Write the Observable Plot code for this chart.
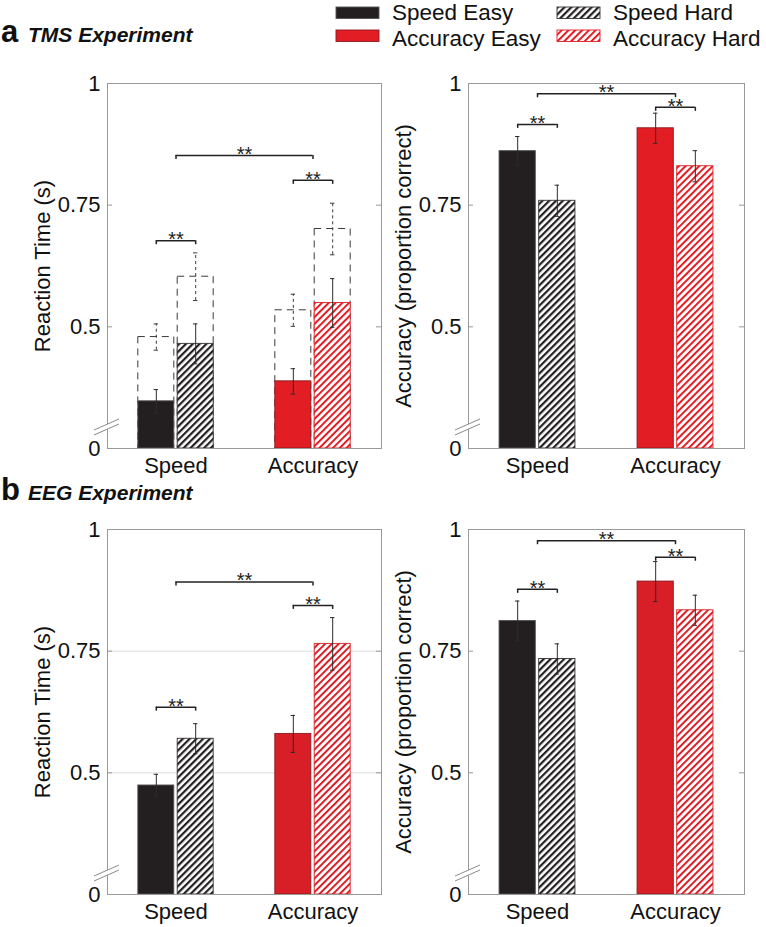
<!DOCTYPE html>
<html>
<head>
<meta charset="utf-8">
<script src="https://cdn.jsdelivr.net/npm/d3@7"></script>
<script src="https://cdn.jsdelivr.net/npm/@observablehq/plot@0.6"></script>
<style>
  body { margin: 0; background: #fff; }
  #root { position: relative; width: 766px; height: 927px; overflow: hidden; font-family: "Liberation Sans", Arial, sans-serif; }
  #overlay { position: absolute; left: 0; top: 0; }
  .panel { position: absolute; }
</style>
</head>
<body>
<div id="root">
<svg id="overlay" width="766" height="927" xmlns="http://www.w3.org/2000/svg">
  <defs>
    <pattern id="hatchK" patternUnits="userSpaceOnUse" width="4.8" height="4.8" patternTransform="rotate(45)">
      <rect width="4.8" height="4.8" fill="#fff"></rect>
      <rect width="2.2" height="4.8" fill="#231f20"></rect>
    </pattern>
    <pattern id="hatchRa" patternUnits="userSpaceOnUse" width="4.8" height="4.8" patternTransform="rotate(45)">
      <rect width="4.8" height="4.8" fill="#fff"></rect>
      <rect width="2" height="4.8" fill="#e21d24"></rect>
    </pattern>
    <pattern id="hatchRb" patternUnits="userSpaceOnUse" width="4.8" height="4.8" patternTransform="rotate(45)">
      <rect width="4.8" height="4.8" fill="#fff"></rect>
      <rect width="2" height="4.8" fill="#d81e26"></rect>
    </pattern>
  </defs>
  <g id="legend"></g>
  <g id="headers"></g>
</svg>
</div>
<script>
// ---------------- data ----------------
const groups = ["Speed", "Accuracy"];
const conditionGroup = ["Speed", "Speed", "Accuracy", "Accuracy"];
const conditionDifficulty = ["Easy", "Hard", "Easy", "Hard"];
const legendLabels = ["Speed Easy", "Speed Hard", "Accuracy Easy", "Accuracy Hard"];

const BASE = 0.25;                       // value at the axis break, labelled "0"
const yTickValues = [0.25, 0.5, 0.75, 1];
const yTickLabels = ["0", "0.5", "0.75", "1"];
const gridValues = [0.5, 0.75];

// order: Speed Easy, Speed Hard, Accuracy Easy, Accuracy Hard
const tmsRT = [0.347, 0.465, 0.388, 0.549];
const tmsRTErr = [0.024, 0.041, 0.026, 0.050];
const tmsRTDashed = [0.479, 0.603, 0.534, 0.701];
const tmsRTDashedErr = [0.027, 0.049, 0.033, 0.053];
const tmsAcc = [0.861, 0.759, 0.908, 0.830];
const tmsAccErr = [0.030, 0.032, 0.031, 0.032];
const eegRT = [0.474, 0.570, 0.580, 0.765];
const eegRTErr = [0.023, 0.031, 0.038, 0.054];
const eegAcc = [0.812, 0.734, 0.893, 0.834];
const eegAccErr = [0.041, 0.031, 0.041, 0.031];

// significance brackets
const sigFrom = ["Speed", "Accuracy", "Speed"];
const sigTo = ["Speed", "Accuracy", "Accuracy"];
const sigLabel = ["**", "**", "**"];
const tmsRTSig = [0.677, 0.801, 0.852];
const tmsAccSig = [0.916, 0.951, 0.979];
const eegRTSig = [0.635, 0.844, 0.892];
const eegAccSig = [0.877, 0.943, 0.977];

// ---------------- drawing ----------------
const BLACK = "#231f20";
const FONT = '"Liberation Sans", Arial, Helvetica, sans-serif';

function makePanel(cfg) {
  const W = 383, H = 420, mT = 23, mB = 32;
  const mL = cfg.mL, mR = cfg.mR;
  const frameW = W - mL - mR;
  const pi = 0.45, po = pi / 2, gap = 3.4;
  const step = frameW / (groups.length - pi + 2 * po);
  const B = step * (1 - pi);
  const halfInset = B / 2 + gap / 2;
  const cE = (B / 2 - gap / 2) / 2;   // centre of Easy bar from band start
  const off = B / 2 - cE;             // offset of bar centres from band centre
  const cap = 2.2;

  const rows = conditionGroup.map((g, i) => ({
    group: g, diff: conditionDifficulty[i], v: cfg.values[i], e: cfg.errors[i],
    dv: cfg.dashed ? cfg.dashed[i] : null, de: cfg.dashedErr ? cfg.dashedErr[i] : null
  }));
  const easy = rows.filter(d => d.diff === "Easy");
  const hard = rows.filter(d => d.diff === "Hard");
  const fills = [BLACK, "url(#hatchK)", cfg.red, cfg.redHatch];
  const strokes = ["#555", "#333", "#8a1a1e", cfg.red];

  const brackets = sigFrom.map((f, i) => ({from: f, to: sigTo[i], y: cfg.sig[i], label: sigLabel[i]}));
  const within = brackets.filter(b => b.from === b.to);
  const cross = brackets.filter(b => b.from !== b.to);

  const marks = [];
  if (cfg.grid) marks.push(Plot.ruleY(gridValues, {stroke: "#dedede", strokeWidth: 1}));

  // dashed outline bars (TMS reaction time)
  if (cfg.dashed) {
    const dashStyle = {stroke: "#3a3a3a", strokeWidth: 1, strokeDasharray: "7,5", fill: "none"};
    marks.push(Plot.barY(easy, {x: "group", y1: BASE, y2: "dv", insetRight: halfInset, ...dashStyle}));
    marks.push(Plot.barY(hard, {x: "group", y1: BASE, y2: "dv", insetLeft: halfInset, ...dashStyle}));
  }

  rows.forEach((r, i) => {
    const isEasy = r.diff === "Easy";
    marks.push(Plot.barY([r], {
      x: "group", y1: BASE, y2: "v", fill: fills[i], stroke: strokes[i], strokeWidth: 0.9,
      insetLeft: isEasy ? 0 : halfInset, insetRight: isEasy ? halfInset : 0
    }));
  });

  if (cfg.dashed) {
    const ds = {stroke: "#3a3a3a", strokeWidth: 1, strokeDasharray: "3,3"};
    marks.push(Plot.ruleX(easy, {x: "group", y1: d => d.dv - d.de, y2: d => d.dv + d.de, dx: -off, ...ds}));
    marks.push(Plot.ruleX(hard, {x: "group", y1: d => d.dv - d.de, y2: d => d.dv + d.de, dx: off, ...ds}));
    const capE = easy.flatMap(d => [{group: d.group, y: d.dv - d.de}, {group: d.group, y: d.dv + d.de}]);
    const capH = hard.flatMap(d => [{group: d.group, y: d.dv - d.de}, {group: d.group, y: d.dv + d.de}]);
    marks.push(Plot.tickY(capE, {x: "group", y: "y", insetLeft: cE - cap, insetRight: B - cE - cap, stroke: "#3a3a3a"}));
    marks.push(Plot.tickY(capH, {x: "group", y: "y", insetLeft: B - cE - cap, insetRight: cE - cap, stroke: "#3a3a3a"}));
  }

  // error bars
  const es = {stroke: "#2b2b2b", strokeWidth: 1};
  marks.push(Plot.ruleX(easy, {x: "group", y1: d => d.v - d.e, y2: d => d.v + d.e, dx: -off, ...es}));
  marks.push(Plot.ruleX(hard, {x: "group", y1: d => d.v - d.e, y2: d => d.v + d.e, dx: off, ...es}));
  const capE = easy.flatMap(d => [{group: d.group, y: d.v - d.e}, {group: d.group, y: d.v + d.e}]);
  const capH = hard.flatMap(d => [{group: d.group, y: d.v - d.e}, {group: d.group, y: d.v + d.e}]);
  marks.push(Plot.tickY(capE, {x: "group", y: "y", insetLeft: cE - cap, insetRight: B - cE - cap, ...es}));
  marks.push(Plot.tickY(capH, {x: "group", y: "y", insetLeft: B - cE - cap, insetRight: cE - cap, ...es}));

  // significance brackets
  const bs = {stroke: "#222", strokeWidth: 1.5};
  marks.push(Plot.ruleY(within, {x1: "from", x2: "to", y: "y", insetLeft: cE, insetRight: cE, ...bs}));
  marks.push(Plot.ruleY(cross, {x1: "from", x2: "to", y: "y", insetLeft: B / 2, insetRight: B / 2, ...bs}));
  marks.push(Plot.ruleX(within, {x: "from", y1: "y", y2: "y", dx: -off, insetBottom: -4, ...bs}));
  marks.push(Plot.ruleX(within, {x: "from", y1: "y", y2: "y", dx: off, insetBottom: -4, ...bs}));
  marks.push(Plot.ruleX(cross, {x: "from", y1: "y", y2: "y", insetBottom: -4, ...bs}));
  marks.push(Plot.ruleX(cross, {x: "to", y1: "y", y2: "y", insetBottom: -4, ...bs}));
  marks.push(Plot.text(within, {x: "from", y: "y", text: "label", fontSize: 20, lineAnchor: "middle", dy: -1, fill: "#222"}));
  marks.push(Plot.text(cross, {x: "from", y: "y", text: "label", fontSize: 20, lineAnchor: "middle", dy: -1, dx: step / 2, fill: "#222"}));

  // frame and inward ticks
  marks.push(Plot.frame({stroke: "#999", strokeWidth: 1}));
  marks.push(Plot.ruleY(yTickValues.slice(1, -1), {insetRight: frameW - 5, stroke: "#999"}));
  marks.push(Plot.ruleY(yTickValues.slice(1, -1), {insetLeft: frameW - 5, stroke: "#999"}));

  // axis break marks
  marks.push((index, scales, values, dims) => {
    const g = d3.create("svg:g");
    const x0 = dims.marginLeft, y0 = dims.height - dims.marginBottom;
    g.append("path")
      .attr("d", `M${x0 - 13},${y0 - 18}L${x0 + 12},${y0 - 29}L${x0 + 12},${y0 - 24}L${x0 - 13},${y0 - 13}Z`)
      .attr("fill", "#fff");
    g.append("path")
      .attr("d", `M${x0 - 13},${y0 - 18}L${x0 + 12},${y0 - 29}M${x0 - 13},${y0 - 13}L${x0 + 12},${y0 - 24}`)
      .attr("stroke", "#8a8a8a").attr("stroke-width", 1).attr("fill", "none");
    return g.node();
  });

  // y-axis title
  marks.push(Plot.text([cfg.label], {text: d => d, frameAnchor: "left", rotate: -90, dx: -58, lineAnchor: "bottom", textAnchor: "middle", fontSize: 22, fill: "#111"}));

  const plot = Plot.plot({
    width: W, height: H,
    marginLeft: mL, marginRight: mR, marginTop: mT, marginBottom: mB,
    style: {fontSize: "22px", fontFamily: FONT, background: "transparent", color: "#111", overflow: "visible"},
    x: {domain: groups, paddingInner: pi, paddingOuter: po, round: false, align: 0.5, tickSize: 0, tickPadding: 9, label: null},
    y: {domain: [BASE, 1], ticks: yTickValues, tickFormat: d => yTickLabels[yTickValues.indexOf(d)], tickSize: 0, tickPadding: 7, label: null},
    marks
  });
  plot.classList.add("panel");
  plot.style.left = cfg.left + "px";
  plot.style.top = cfg.top + "px";
  plot.style.position = "absolute";
  plot.style.maxWidth = "none";
  document.getElementById("root").appendChild(plot);
}

makePanel({left: 0, top: 60, mL: 107, mR: 2, values: tmsRT, errors: tmsRTErr, dashed: tmsRTDashed, dashedErr: tmsRTDashedErr,
  sig: tmsRTSig, label: "Reaction Time (s)", red: "#e21d24", redHatch: "url(#hatchRa)"});
makePanel({left: 383, top: 60, mL: 85, mR: 22, values: tmsAcc, errors: tmsAccErr,
  sig: tmsAccSig, label: "Accuracy (proportion correct)", red: "#e21d24", redHatch: "url(#hatchRa)"});
makePanel({left: 0, top: 506, mL: 107, mR: 2, values: eegRT, errors: eegRTErr, grid: true,
  sig: eegRTSig, label: "Reaction Time (s)", red: "#d81e26", redHatch: "url(#hatchRb)"});
makePanel({left: 383, top: 506, mL: 85, mR: 22, values: eegAcc, errors: eegAccErr,
  sig: eegAccSig, label: "Accuracy (proportion correct)", red: "#d81e26", redHatch: "url(#hatchRb)"});

// ---------------- headers & legend ----------------
const overlay = d3.select("#overlay");
const headers = overlay.select("#headers");
[["a", "TMS Experiment", 41.5], ["b", "EEG Experiment", 500]].forEach(([letter, title, y]) => {
  headers.append("text").attr("x", 1).attr("y", y).attr("font-family", FONT).attr("font-weight", "bold")
    .attr("font-size", 31).attr("fill", "#111").text(letter);
  headers.append("text").attr("x", 28).attr("y", y).attr("font-family", FONT).attr("font-weight", "bold")
    .attr("font-style", "italic").attr("font-size", 21).attr("fill", "#111").text(title);
});
const legend = overlay.select("#legend");
const legendFills = [BLACK, "url(#hatchK)", "#e21d24", "url(#hatchRa)"];
const legendStrokes = ["#555", "#333", "#8a1a1e", "#e21d24"];
legendLabels.forEach((lab, i) => {
  const col = i % 2, row = Math.floor(i / 2);
  const sx = col === 0 ? 336 : 557, sy = row === 0 ? 7 : 30;
  legend.append("rect").attr("x", sx).attr("y", sy).attr("width", 43).attr("height", 11.5)
    .attr("fill", legendFills[i]).attr("stroke", legendStrokes[i]).attr("stroke-width", 0.9);
  legend.append("text").attr("x", sx + 56).attr("y", row === 0 ? 19.5 : 46)
    .attr("font-family", FONT).attr("font-size", 22.5).attr("fill", "#111").text(lab);
});
</script>
</body>
</html>
